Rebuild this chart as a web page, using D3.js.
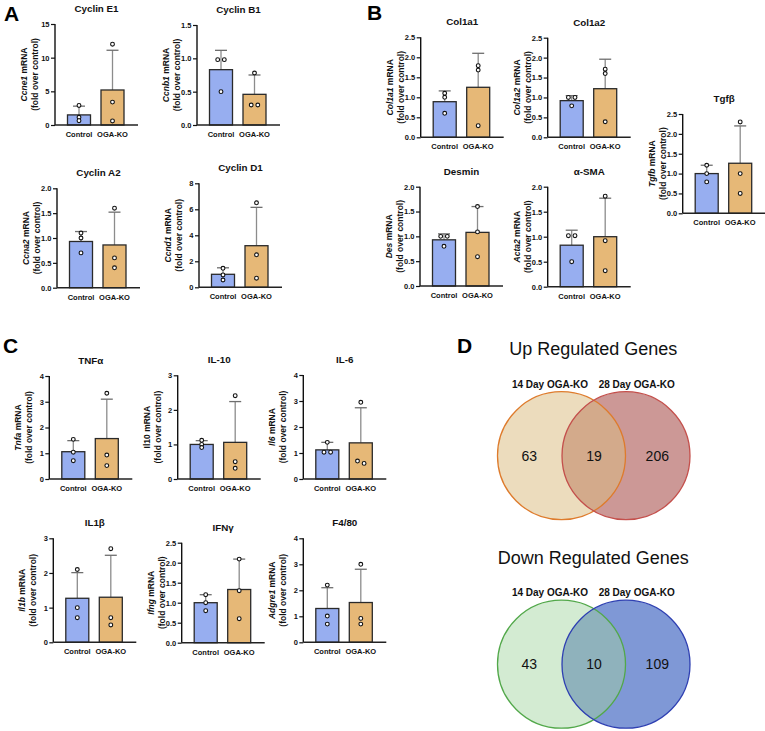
<!DOCTYPE html>
<html><head><meta charset="utf-8">
<script src="https://cdn.jsdelivr.net/npm/d3@7"></script>
<style>
body{margin:0;background:#fff;}
svg{display:block;font-family:"Liberation Sans",Arial,Helvetica,sans-serif;}
</style></head>
<body><svg id="fig" width="765" height="731"></svg>
<script>
// ---------- DATA ----------
const groups = ["Control", "OGA-KO"];
const panelTitles = ["Cyclin E1","Cyclin B1","Cyclin A2","Cyclin D1","Col1a1","Col1a2","Desmin","α-SMA","Tgfβ","TNFα","IL-10","IL-6","IL1β","IFNγ","F4/80"];
const geneNames  = ["Ccne1","Ccnb1","Ccna2","Ccnd1","Col1a1","Col1a2","Des","Acta2","Tgfb","Tnfa","Il10","Il6","Il1b","Ifng","Adgre1"];
const geneItalic = [true,true,true,true,true,true,true,true,true,true,false,true,true,true,true];
const yMaxes     = [15,1.5,2,8,2.5,2.5,2,2,2.5,4,3,4,3,2.5,4];
const yTickSteps = [5,0.5,0.5,2,0.5,0.5,0.5,0.5,0.5,1,1,1,1,0.5,1];
const controlMeans  = [1.5,0.83,0.93,1.0,0.89,0.92,0.93,0.83,1.0,1.06,1.0,1.12,1.27,1.0,1.3];
const controlErrTop = [2.8,1.12,1.13,1.5,1.16,1.045,1.05,1.13,1.21,1.49,1.11,1.41,2.01,1.2,2.1];
const controlPoints = [[2.9,1.15,0.64],[0.98,0.98,0.5],[1.1,1.0,0.7],[1.46,0.95,0.56],[1.1,1.0,0.6],[1.0,1.0,0.79],[1.0,1.0,0.8],[1.02,1.02,0.5],[1.21,1.0,0.79],[1.54,1.04,0.71],[1.12,1.0,0.91],[1.41,1.03,1.03],[2.1,1.0,0.71],[1.2,1.0,0.8],[2.2,1.01,0.7]];
const koMeans  = [5.2,0.46,0.86,3.2,1.25,1.22,1.08,1.0,1.26,1.57,1.06,1.39,1.3,1.33,1.53];
const koErrTop = [11.1,0.75,1.52,6.15,2.1,1.96,1.6,1.77,2.2,3.1,2.24,2.74,2.51,2.09,2.81];
const koPoints = [[12.0,3.4,0.6],[0.78,0.3,0.3],[1.6,0.6,0.4],[6.5,2.5,0.7],[1.79,1.68,0.29],[1.71,1.6,0.39],[1.6,1.09,0.59],[1.81,0.92,0.32],[2.3,1.0,0.5],[3.33,0.93,0.52],[2.41,0.5,0.31],[2.95,0.69,0.6],[2.7,0.71,0.5],[2.09,1.3,0.6],[3.0,0.92,0.7]];
const panelLetters = ["A","B","C","D"];
const vennTitles = ["Up Regulated Genes","Down Regulated Genes"];
const vennSetLabels = ["14 Day OGA-KO","28 Day OGA-KO"];
const upCounts = [63,19,206];
const downCounts = [43,10,109];

// ---------- LAYOUT ----------
const panelLayout = [
 {ax:55,top:24,bot:125},{ax:197,top:25,bot:125},{ax:57,top:188.3,bot:287.7},{ax:199,top:183.3,bot:287.3},
 {ax:420.7,top:37.3,bot:137.3},{ax:547.7,top:37.7,bot:137.3},{ax:420,top:186.7,bot:286},{ax:547.7,top:186.7,bot:286.7},
 {ax:682.7,top:114,bot:213.3},
 {ax:49.3,top:376,bot:479},{ax:177.7,top:375.3,bot:479},{ax:303.3,top:375,bot:479},
 {ax:53.3,top:538.3,bot:642.3},{ax:181.7,top:542.7,bot:642.7},{ax:303.3,top:538.3,bot:642.3}
];
const letterPos = [{x:4,y:21},{x:367,y:20},{x:3,y:353},{x:457,y:353}];
const barColors = ["#97aef0","#e6b877"];
const vennLayout = [{cy:455.7,titleY:354.5,labelY:388},{cy:664.2,titleY:563.5,labelY:596}];
const vennCx = [561.5,626], vennR = 64;
const vennStyles = [
  {fill:["#ecdcbd","#cc9896"],over:"#d3aa8b",stroke:["#de7b2c","#c4504c"]},
  {fill:["#d3ebd2","#7f98d6"],over:"#8fb2bc",stroke:["#52a84a","#2f40b2"]}
];

const svg = d3.select("#fig");
svg.append("rect").attr("width",765).attr("height",731).attr("fill","#fff");

// ---------- BAR PANELS ----------
panelTitles.forEach((title,i)=>{
  const L = panelLayout[i];
  const g = svg.append("g");
  const y = d3.scaleLinear().domain([0,yMaxes[i]]).range([L.bot,L.top]);
  const x = d3.scalePoint().domain(groups).range([L.ax+24,L.ax+57.5]);
  const bw = 23;
  const means = [controlMeans[i],koMeans[i]];
  const errs = [controlErrTop[i],koErrTop[i]];
  const pts = [controlPoints[i],koPoints[i]];

  groups.forEach((grp,j)=>{
    const cx = x(grp);
    g.append("line").attr("x1",cx).attr("x2",cx).attr("y1",y(means[j])).attr("y2",y(errs[j]))
      .attr("stroke","#8c8c8c").attr("stroke-width",1.3);
    g.append("line").attr("x1",cx-6).attr("x2",cx+6).attr("y1",y(errs[j])).attr("y2",y(errs[j]))
      .attr("stroke","#6e6e6e").attr("stroke-width",1.3);
    g.append("rect").attr("x",cx-bw/2).attr("y",y(means[j])).attr("width",bw)
      .attr("height",y(0)-y(means[j])).attr("fill",barColors[j]).attr("stroke","#2a2a2a").attr("stroke-width",1.3);
  });
  groups.forEach((grp,j)=>{
    const cx = x(grp);
    const py = pts[j].map(v=>y(v));
    const offs = py.map(()=>0);
    for(let a=0;a<py.length;a++) for(let b=a+1;b<py.length;b++){
      if(Math.abs(py[a]-py[b])<3 && offs[a]===0 && offs[b]===0){offs[a]=-3.3;offs[b]=3.3;}
    }
    py.forEach((yy,k)=>{
      g.append("circle").attr("cx",cx+offs[k]).attr("cy",yy).attr("r",1.9)
        .attr("fill","#fff").attr("stroke","#111").attr("stroke-width",1.1);
    });
  });

  const ticks = d3.range(0,yMaxes[i]+1e-9,yTickSteps[i]);
  const fmt = yTickSteps[i]<1 ? d3.format(".1f") : d3.format("d");
  const yAxis = d3.axisLeft(y).tickValues(ticks).tickFormat(fmt).tickSize(4).tickSizeOuter(0);
  const ya = g.append("g").attr("transform",`translate(${L.ax},0)`).call(yAxis);
  ya.select(".domain").attr("stroke","#111").attr("stroke-width",1.4).attr("d",`M0,${L.top}V${L.bot}`);
  ya.selectAll(".tick line").attr("stroke","#111").attr("stroke-width",1.2);
  ya.selectAll(".tick text").attr("font-size",7.5).attr("font-weight","bold").attr("fill","#111")
    .attr("font-family","Liberation Sans,Arial,sans-serif").attr("x",-5.5);
  g.append("line").attr("x1",L.ax).attr("x2",L.ax+83).attr("y1",L.bot).attr("y2",L.bot)
    .attr("stroke","#222").attr("stroke-width",1.4);
  groups.forEach(grp=>{
    g.append("text").attr("x",x(grp)).attr("y",L.bot+12).attr("text-anchor","middle")
      .attr("font-size",7.5).attr("font-weight","bold").attr("fill","#111").text(grp);
  });
  g.append("text").attr("x",L.ax+41.5).attr("y",L.top-12).attr("text-anchor","middle")
    .attr("font-size",9.8).attr("font-weight","bold").attr("fill","#111").text(title);
  const my = (L.top+L.bot)/2;
  const t1 = g.append("text").attr("transform",`translate(${L.ax-28},${my}) rotate(-90)`)
    .attr("text-anchor","middle").attr("font-size",8.5).attr("font-weight","bold").attr("fill","#111");
  t1.append("tspan").attr("font-style",geneItalic[i]?"italic":"normal").text(geneNames[i]);
  t1.append("tspan").text(" mRNA");
  g.append("text").attr("transform",`translate(${L.ax-17},${my}) rotate(-90)`)
    .attr("text-anchor","middle").attr("font-size",8.5).attr("font-weight","bold").attr("fill","#111")
    .text("(fold over control)");
});

// ---------- PANEL LETTERS ----------
panelLetters.forEach((l,i)=>{
  svg.append("text").attr("x",letterPos[i].x).attr("y",letterPos[i].y)
    .attr("font-size",21).attr("font-weight","bold").attr("fill","#000").text(l);
});

// ---------- VENN ----------
[upCounts,downCounts].forEach((counts,v)=>{
  const V = vennLayout[v], S = vennStyles[v];
  const g = svg.append("g");
  const clipId = "clip"+v;
  g.append("clipPath").attr("id",clipId).append("circle").attr("cx",vennCx[0]).attr("cy",V.cy).attr("r",vennR);
  g.append("circle").attr("cx",vennCx[0]).attr("cy",V.cy).attr("r",vennR).attr("fill",S.fill[0]);
  g.append("circle").attr("cx",vennCx[1]).attr("cy",V.cy).attr("r",vennR).attr("fill",S.fill[1]);
  g.append("circle").attr("cx",vennCx[1]).attr("cy",V.cy).attr("r",vennR).attr("fill",S.over).attr("clip-path",`url(#${clipId})`);
  g.append("circle").attr("cx",vennCx[0]).attr("cy",V.cy).attr("r",vennR).attr("fill","none").attr("stroke",S.stroke[0]).attr("stroke-width",1.3);
  g.append("circle").attr("cx",vennCx[1]).attr("cy",V.cy).attr("r",vennR).attr("fill","none").attr("stroke",S.stroke[1]).attr("stroke-width",1.3);
  g.append("text").attr("x",593.3).attr("y",V.titleY).attr("text-anchor","middle").attr("font-size",18).attr("fill","#111").text(vennTitles[v]);
  const lx = [550,636.7];
  vennSetLabels.forEach((s,k)=>{
    g.append("text").attr("x",lx[k]).attr("y",V.labelY).attr("text-anchor","middle").attr("font-size",10)
      .attr("font-weight","bold").attr("fill","#111").text(s);
  });
  const nx = [529.3,594,657.3];
  counts.forEach((c,k)=>{
    g.append("text").attr("x",nx[k]).attr("y",V.cy+5).attr("text-anchor","middle").attr("font-size",14)
      .attr("fill","#111").text(c);
  });
});
</script></body></html>
